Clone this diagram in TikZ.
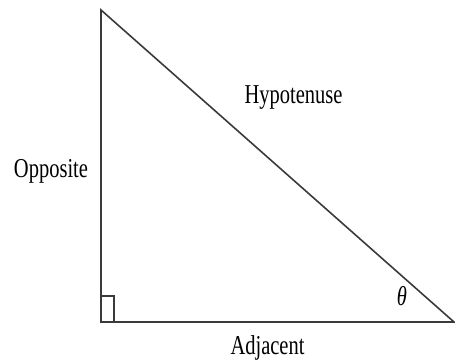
\documentclass[tikz,border=0pt]{standalone}
\usepackage{fontspec}
\setmainfont{Liberation Serif}
\definecolor{edge}{HTML}{3A3A3A}
\tikzset{
  side/.style={draw=edge, line width=1.6pt, line join=miter},
  lbl/.style={inner sep=0pt, anchor=base, font=\fontsize{20.5}{24}\selectfont, text=black}
}
\newcommand{\stretchy}[1]{\scalebox{1}[1.33]{#1}}
\begin{document}
\begin{tikzpicture}[x=1pt,y=1pt]
\useasboundingbox (0,0) rectangle (455,362);
\coordinate (top) at (101,352);
\coordinate (corner) at (101,40);
\coordinate (right) at (454,40);
\coordinate (sqA) at (101,66);
\coordinate (sqB) at (114,66);
\coordinate (sqC) at (114,40);
\draw[side] (top) -- (corner) -- (right) -- cycle;
\draw[side, line width=1.4pt] (sqA) -- (sqB) -- (sqC);
\node[lbl] (opp) at (51,185) {\stretchy{Opposite}};
\node[lbl] (hyp) at (293.5,258) {\stretchy{Hypotenuse}};
\node[lbl] (adj) at (267.5,8) {\stretchy{Adjacent}};
\node[lbl, anchor=center] (theta) at (402,65.5) {\stretchy{\itshape θ}};
\end{tikzpicture}
\end{document}
